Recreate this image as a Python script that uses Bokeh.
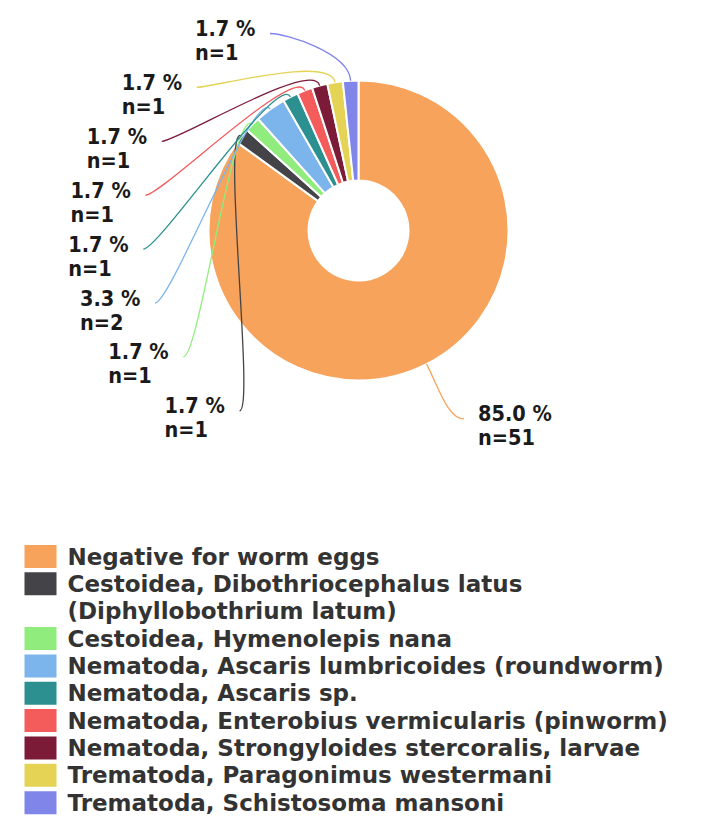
import math
from bokeh.plotting import figure
from bokeh.models import Range1d, ColumnDataSource
from bokeh.core.properties import value
from bokeh.embed import file_html
from bokeh.resources import INLINE

# ---------------- data ----------------
categories = [
    "Negative for worm eggs",
    "Cestoidea, Dibothriocephalus latus\n(Diphyllobothrium latum)",
    "Cestoidea, Hymenolepis nana",
    "Nematoda, Ascaris lumbricoides (roundworm)",
    "Nematoda, Ascaris sp.",
    "Nematoda, Enterobius vermicularis (pinworm)",
    "Nematoda, Strongyloides stercoralis, larvae",
    "Trematoda, Paragonimus westermani",
    "Trematoda, Schistosoma mansoni",
]
counts = [51, 1, 1, 2, 1, 1, 1, 1, 1]
colors = ["#f7a35c", "#434348", "#90ed7d", "#7cb5ec", "#2b908f",
          "#f45b5b", "#7b1b38", "#e4d354", "#8085e9"]

# ---------------- layout ----------------
W, H = 696, 818


def X(px):
    return px


def Y(py):
    return H - py


CX, CY = 358, 230          # pie centre (image px)
R_OUT, R_IN = 150, 50
R_LABEL = 216
LEFT_TOP, LEFT_STEP = 33, 53.9
LABEL_FONT = value("DejaVu Sans Condensed")
LEGEND_FONT = value("DejaVu Sans")

total = sum(counts)

p = figure(width=W, height=H, output_backend="svg", toolbar_location=None,
           x_range=Range1d(0, W), y_range=Range1d(0, H),
           x_axis_location=None, y_axis_location=None, min_border=0)
p.grid.visible = False
p.outline_line_color = None
p.background_fill_color = "white"

# wedges
starts, ends, mids = [], [], []
cum = 0
for c in counts:
    a0 = math.pi / 2 - 2 * math.pi * cum / total
    a1 = math.pi / 2 - 2 * math.pi * (cum + c) / total
    starts.append(a0)
    ends.append(a1)
    mids.append((a0 + a1) / 2)
    cum += c

src = ColumnDataSource(dict(start=starts, end=ends, color=colors))
p.annular_wedge(x=X(CX), y=Y(CY), inner_radius=R_IN, outer_radius=R_OUT,
                start_angle="start", end_angle="end", direction="clock",
                fill_color="color", line_color="white", line_width=2, source=src)

# data labels with connectors
bx0, by0, bx1, by1, bc0x, bc0y, bc1x, bc1y, bcol = [], [], [], [], [], [], [], [], []
t_x, t_y, t_text = [], [], []
n_left = len(counts) - 1
for i, c in enumerate(counts):
    m = mids[i]
    ux, uy = math.cos(m), -math.sin(m)   # image-space direction (y down)
    p0x, p0y = CX + R_OUT * ux, CY + R_OUT * uy
    c0x, c0y = CX + (R_OUT + 28) * ux, CY + (R_OUT + 28) * uy
    if i == 0:
        ey = CY + R_LABEL * uy - 4
        ex = CX + math.sqrt(max(R_LABEL ** 2 - (ey - CY) ** 2, 0))
        c1x, c1y = ex - 16, ey
        tx = ex + 14
    else:
        ey = LEFT_TOP + (n_left - i) * LEFT_STEP
        ex = CX - math.sqrt(max(R_LABEL ** 2 - (ey - CY) ** 2, 0))
        c1x, c1y = ex + 16, ey
        tx = ex - 75
    bx0.append(X(p0x)); by0.append(Y(p0y))
    bx1.append(X(ex)); by1.append(Y(ey))
    bc0x.append(X(c0x)); bc0y.append(Y(c0y))
    bc1x.append(X(c1x)); bc1y.append(Y(c1y))
    bcol.append(colors[i])
    pct = f"{100 * c / total:.1f} %"
    t_x += [X(tx), X(tx)]
    t_y += [Y(ey - 5), Y(ey + 19)]
    t_text += [pct, f"n={c}"]

p.bezier(x0=bx0, y0=by0, x1=bx1, y1=by1, cx0=bc0x, cy0=bc0y, cx1=bc1x, cy1=bc1y,
         line_color=bcol, line_width=1.3)
p.text(x=t_x, y=t_y, text=t_text, text_font=LABEL_FONT, text_font_style="bold",
       text_font_size="21.5px", text_color="#1a1a1a", text_baseline="middle",
       text_align="left")

# legend
LEG_TOP, LEG_STEP = 556, 27.35
rx, ry, rc = [], [], []
lx, ly, lt = [], [], []
row = 0
for i, cat in enumerate(categories):
    y0 = LEG_TOP + row * LEG_STEP
    rx.append(X(40)); ry.append(Y(y0)); rc.append(colors[i])
    for line in cat.split("\n"):
        lx.append(X(67)); ly.append(Y(LEG_TOP + row * LEG_STEP)); lt.append(line)
        row += 1

p.rect(x=rx, y=ry, width=32, height=23, fill_color=rc, line_color=None)
p.text(x=lx, y=ly, text=lt, text_font=LEGEND_FONT, text_font_style="bold",
       text_font_size="23px", text_color="#333333", text_baseline="middle",
       text_align="left")

open("out.html", "w").write(file_html(p, INLINE))
